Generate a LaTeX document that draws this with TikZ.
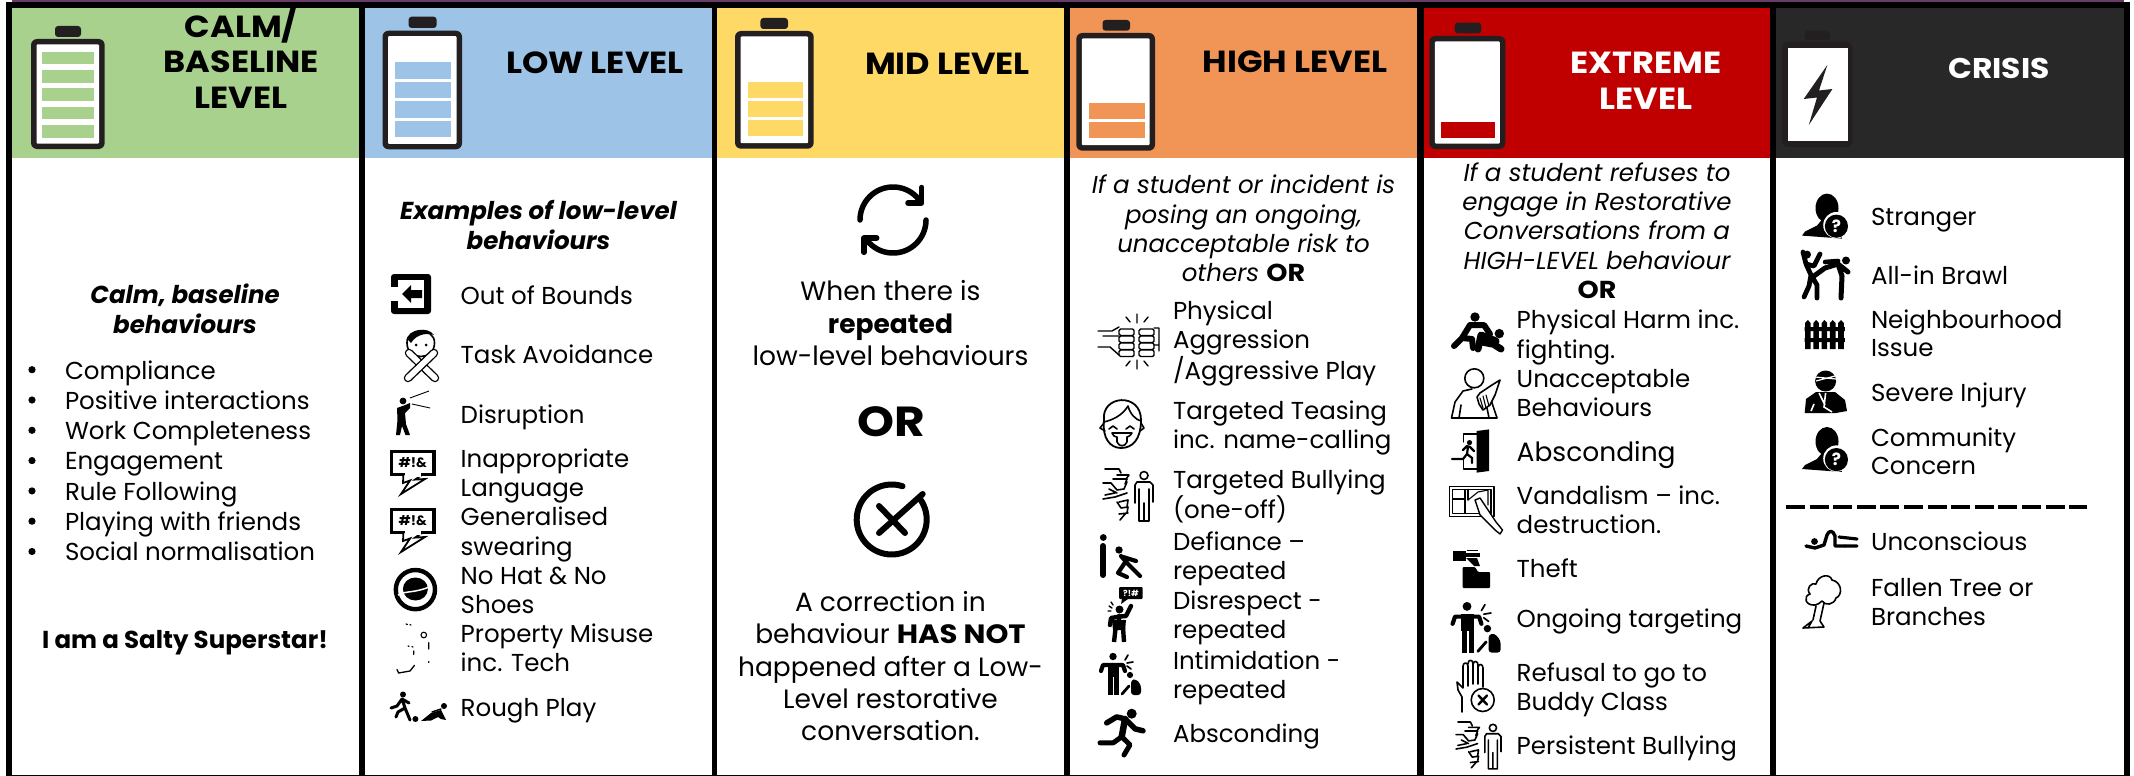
\documentclass[tikz,border=0pt]{standalone}
\usepackage{fontspec}
\setmainfont{Poppins}
\definecolor{cgreen}{HTML}{A9D18E}
\definecolor{cblue}{HTML}{9DC3E6}
\definecolor{cyellow}{HTML}{FFD966}
\definecolor{corange}{HTML}{F19556}
\definecolor{cred}{HTML}{C00000}
\definecolor{cdark}{HTML}{282828}
\definecolor{batcol}{HTML}{231F20}
\definecolor{cpurple}{HTML}{6A3A66}
\newcommand{\wb}[1]{{\bfseries\addfontfeature{FakeStretch=1.1}#1}}
\tikzset{
  lbl/.style={inner sep=0pt,outer sep=0pt,align=left,anchor=base west,yshift=-1.3pt,font=\fontsize{24.5}{29.3}\selectfont},
  lblsix/.style={lbl,yshift=0pt,font=\fontsize{24.5}{28.2}\selectfont},
  ctr/.style={inner sep=0pt,outer sep=0pt,align=center,anchor=base,yshift=-1.3pt,font=\fontsize{24.5}{29.3}\selectfont},
  big/.style={inner sep=0pt,outer sep=0pt,align=center,anchor=base,yshift=-1.3pt,font=\fontsize{26.5}{32.4}\selectfont},
  head/.style={inner sep=0pt,outer sep=0pt,align=center,anchor=base,font=\fontsize{30.5}{35.5}\selectfont\bfseries\addfontfeature{FakeStretch=1.1}},
  blk/.style={line cap=round,line join=round,black},
  thin/.style={line width=1.6pt,line cap=round,line join=round,black},
}
\newcommand{\batt}[8]{%
  \fill[batcol,rounded corners=3pt] (#5,#6) rectangle (#7,#8);
  \fill[batcol,rounded corners=6pt] (#1,#2) rectangle (#3,#4);
  \fill[white,rounded corners=1pt] ({#1+5.5},{#2+5.5}) rectangle ({#3-5.5},{#4-5.5});}
\newcommand{\seg}[5]{\fill[#1] (#2,#3) rectangle (#4,#5);}
\newcommand{\speechicon}[3]{\begin{scope}[shift={(#2,#3)}]
  \draw[line width=3.2pt,fill=white] (1.6,1.6) rectangle (43.9,24.4);
  \filldraw[draw=black,fill=white,line width=1.8pt,line join=miter] (13.4,25)--(13,33)--(20,30.5)--(11,44)--(35,29)--(25,29.6)--(32,25);
  \fill[white] (14.6,22.9) rectangle (30.8,26.6);
  \node[inner sep=0pt,font=\fontsize{13.5}{14}\selectfont\bfseries] (#1) at (22.7,13) {\#!\&};
\end{scope}}
\newcommand{\bullyicon}[3]{\begin{scope}[shift={(#1,#2)},scale=#3]
  \draw[thin] (2,0)--(16,0)--(18,4) (14,6)--(26,6)--(23,10) (10,10)--(24,10)--(22,15) (0,14)--(8,14)--(14,21)--(21,20)--(24,13) (6,20)--(14,24)
    (0,30)--(12,28)--(24,24) (2,26)--(12,24) (16,33)--(25,31)--(24,38) (18,39)--(25,38)--(24,44) (16,45)--(25,44) (17,51)--(23,44) (14,33)--(18,39);
  \draw[thin] (41,6.5) circle (4);
  \draw[thin] (32,34)--(32,16)--(34,13)--(47,13)--(50,16)--(50,33) (46,20)--(46,52)--(36,52)--(36,20) (41,34)--(41,52);
\end{scope}}
\newcommand{\targeticon}[3]{\begin{scope}[shift={(#1,#2)},scale=#3]
  \fill (15,4.5) circle (3.7);
  \draw[blk,line width=4.2pt] (3,19)--(5,13)--(25,13)--(27,19);
  \fill (10,11) rectangle (21,25);
  \draw[line width=4.6pt] (12.7,24)--(12.7,43) (18.6,24)--(18.6,43);
  \fill (32,23) circle (3.1);
  \fill[rounded corners=3pt] (33,28)--(38,27)--(43,33)--(43,43)--(33,43)--cycle;
  \draw[blk,line width=2.8pt] (24,42)--(31,34);
  \draw[blk,line width=1.7pt] (30,3)--(27,8) (29,11)--(35,10) (29,14)--(33,17);
\end{scope}}
\newcommand{\strangericon}[3]{\begin{scope}[shift={(#2,#3)}]
  \fill (25,14.5) ellipse (11.5 and 14.5);
  \fill (0,42)--(3,38)--(15,32)--(20,26)--(30,26)--(36,32)--(40,45)--cycle;
  \fill[white] (34.4,31.6) circle (13.2);
  \fill (34.4,32.6) circle (11.6);
  \node[inner sep=0pt,text=white,font=\fontsize{17}{18}\selectfont\bfseries] (#1) at (34.4,32.6) {?};
\end{scope}}
\begin{document}
\begin{tikzpicture}[x=1pt,y=-1pt]
\useasboundingbox (0,0) rectangle (2134,776);
\fill[white] (0,0) rectangle (2134,776);
% frame and columns
\fill[black] (6,2) rectangle (2130,776);
\fill[cpurple] (12,0) rectangle (2124,2);
\fill[white] (12,158) rectangle (359,775);
\fill[white] (365,158) rectangle (712,775);
\fill[white] (717,158) rectangle (1064,775);
\fill[white] (1070,158) rectangle (1417,775);
\fill[white] (1424,158) rectangle (1770,775);
\fill[white] (1776,158) rectangle (2124,775);
\fill[cgreen] (12,8) rectangle (359,158);
\fill[cblue] (365,8) rectangle (712,158);
\fill[cyellow] (717,8) rectangle (1064,158);
\fill[corange] (1070,8) rectangle (1417,158);
\fill[cred] (1424,8) rectangle (1770,158);
\fill[cdark] (1776,8) rectangle (2124,158);
% batteries
\batt{31}{39}{104.7}{149}{55}{26}{81}{37}
\foreach \a/\b in {52/64.3,70/82.7,88.3/101,106.7/119.3,125/137.7}{\seg{cgreen}{42}{\a}{94}{\b}}
\batt{382.5}{30.7}{462}{149.3}{408.6}{16.7}{436.6}{28}
\foreach \a/\b in {62.3/79,81.7/98.3,101/117.7,120.7/137.3}{\seg{cblue}{395}{\a}{451}{\b}}
\batt{735}{31}{813.7}{148.7}{760.4}{18}{788}{29}
\foreach \a/\b in {81.7/98,101/117.3,120/136.3}{\seg{cyellow}{747.5}{\a}{802.6}{\b}}
\batt{1076.3}{33}{1155}{150.7}{1102.5}{20}{1130}{30.7}
\foreach \a/\b in {103/119,122.3/138.3}{\seg{corange}{1089}{\a}{1144.7}{\b}}
\batt{1429.3}{36}{1505.3}{149}{1454.7}{22.7}{1481.3}{33.3}
\seg{cred}{1441}{122}{1495}{137.7}
\fill[batcol,rounded corners=3pt] (1804.7,30.7) rectangle (1830,40);
\fill[batcol,rounded corners=6pt] (1782,42) rectangle (1852.6,147);
\fill[white] (1787.5,47.6) rectangle (1847.5,141);
\fill[batcol] (1827.3,65)--(1803.7,99)--(1817,97.5)--(1808.8,125)--(1832.4,89)--(1819,90.5)--cycle;
% headers
\node[head] (h1) at (241,108) {CALM/\\BASELINE\\LEVEL};
\node[head] (h2) at (595,74) {LOW LEVEL};
\node[head] (h3) at (947.5,74.7) {MID LEVEL};
\node[head] (h4) at (1295,72.7) {HIGH LEVEL};
\node[head,text=white] (h5) at (1646,109) {EXTREME\\LEVEL};
\node[head,text=white,font=\fontsize{28.5}{35.5}\selectfont\bfseries\addfontfeature{FakeStretch=1.1}] (h6) at (1999,78) {CRISIS};
% column 1
\node[ctr,font=\fontsize{24.5}{30}\selectfont\bfseries\itshape] (c1t) at (185,331.7) {Calm, baseline\\behaviours};
\node[lbl,font=\fontsize{24.5}{30.3}\selectfont] (c1l) at (65,559.5) {Compliance\\Positive interactions\\Work Completeness\\Engagement\\Rule Following\\Playing with friends\\Social normalisation};
\foreach \i in {0,...,6}{\fill (32,{369.7+30.3*\i}) circle (3.6);}
\node[ctr,font=\fontsize{24.5}{30}\selectfont\bfseries] (c1b) at (185,647) {I am a Salty Superstar!};
% column 2
\node[ctr,font=\fontsize{24.5}{30}\selectfont\bfseries\itshape] (c2t) at (538.5,248) {Examples of low-level\\behaviours};
\node[lbl] (c2a) at (460.7,302.7) {Out of Bounds};
\node[lbl] (c2b) at (460.7,362.4) {Task Avoidance};
\node[lbl] (c2c) at (460.7,421.8) {Disruption};
\node[lbl] (c2d) at (460.7,495) {Inappropriate\\Language};
\node[lbl] (c2e) at (460.7,553.8) {Generalised\\swearing};
\node[lbl] (c2f) at (460.7,612.3) {No Hat \& No\\Shoes};
\node[lbl] (c2g) at (460.7,670.3) {Property Misuse\\inc. Tech};
\node[lbl] (c2h) at (460.7,714.8) {Rough Play};
% column 2 icons
\begin{scope}[shift={(391,274)}]
  \fill[rounded corners=3pt] (0,0) rectangle (40,40);
  \fill[white] (7,6) rectangle (33,34);
  \fill[white] (0,13) rectangle (7,27);
  \fill (11,20)--(20,11)--(20,16)--(31,16)--(31,24)--(20,24)--(20,29)--cycle;
\end{scope}
\begin{scope}[shift={(404,329)}]
  \draw[thin] (3,14) .. controls (2,-2) and (31,-2) .. (30.5,14) .. controls (30.5,32) and (3,32) .. (3,14) -- cycle;
  \fill (4,11) .. controls (4,0) and (24,-3) .. (30,6) .. controls (25,4) and (13,4) .. (7,14) -- cycle;
  \fill (12,16) circle (1.5) (22,16) circle (1.5);
  \draw[line width=8.5pt,line cap=round] (5,24)--(31,49);
  \draw[line width=5.8pt,white,line cap=round] (5,24)--(31,49);
  \draw[line width=8.5pt,line cap=round] (30,24)--(4,49);
  \draw[line width=5.8pt,white,line cap=round] (30,24)--(4,49);
\end{scope}
\draw[line width=0.9pt] (410,398)--(429,391) (412,404)--(430,408);
\fill (403,401) circle (3.4);
\fill (397,408)--(404,405.5)--(410,403)--(410,408)--(405,413)--(406,424)--(410,435)--(405.5,435)--(402,426)--(400,435)--(396,435)--(397.5,420)--cycle;
\speechicon{s1}{390}{450}
\speechicon{s2}{390}{508}
\draw[line width=4.4pt] (415.4,589.6) circle (19.6);
\fill (415.4,589) ellipse (12.5 and 11.5);
\draw[white,line width=1.5pt] (398,595) .. controls (408,590) and (412,594) .. (432,586);
\draw[line width=1.1pt,line cap=round] (423.8,635) circle (2.8);
\draw[line width=1.2pt,line cap=round] (406,624)--(407.5,624.5) (410,624.6)--(411,625) (408,646)--(409,646.3) (412,646.7)--(413,647) (428.8,642.6)--(428.8,649) (413.7,651)--(413.7,654.4) (428.8,661.5)--(428.8,662.5);
\draw[line width=1.3pt,line cap=round] (397,669.5)--(398.6,673)--(410,671)--(414.4,665.4);
% rough play
\fill (403,694.5) circle (3);
\draw[blk,line width=3pt] (402,699)--(405,708)--(410,720) (405,708)--(398,712)--(396,717) (402,699)--(397,706)--(391,708) (402,699)--(409,703);
\fill (415.4,719) circle (3);
\fill (444,706) circle (3);
\fill (421,721)--(431,713)--(441,710)--(443,714)--(446,720)--(441,719)--(438,717)--(431,720.5)--cycle;
\draw[blk,line width=1.5pt] (432,712)--(441,709);
% column 3
\draw[blk,line width=5.5pt] plot[domain=180:322,samples=40] ({893+33*cos(\x)},{220+33*sin(\x)});
\draw[blk,line width=5.5pt] (921.7,187.5)--(921.7,203)--(908,203);
\draw[blk,line width=5.5pt] plot[domain=0:138,samples=40] ({893+33*cos(\x)},{220+33*sin(\x)});
\draw[blk,line width=5.5pt] (864,252.3)--(864,238)--(876.7,238);
\node[big] (c3a) at (890.5,364.3) {When there is\\\textbf{repeated}\\low-level behaviours};
\node[ctr,yshift=0pt,font=\fontsize{42}{44}\selectfont\bfseries\addfontfeature{FakeStretch=1.12}] (c3or) at (891,435.5) {OR};
\draw[blk,line width=6pt] plot[domain=-35:288,samples=60] ({891.7+35*cos(\x)},{519.5+35*sin(\x)});
\draw[blk,line width=6pt] (879,506)--(905,533) (879,533)--(922.7,494);
\node[big] (c3b) at (890.5,739.6) {A correction in\\behaviour \wb{HAS NOT}\\happened after a Low-\\Level restorative\\conversation.};
% column 4
\node[ctr] (c4t) at (1243.5,280.5) {\itshape If a student or incident is\\\itshape posing an ongoing,\\\itshape unacceptable risk to\\\itshape others \upshape\wb{OR}};
\node[lbl] (c4a) at (1173,378.3) {Physical\\Aggression\\/Aggressive Play};
\node[lbl] (c4b) at (1173,447.2) {Targeted Teasing\\inc. name-calling};
\node[lbl] (c4c) at (1173,517.3) {Targeted Bullying\\(one-off)};
\node[lbl] (c4d) at (1173,578.3) {Defiance --\\repeated};
\node[lbl] (c4e) at (1173,637.3) {Disrespect -\\repeated};
\node[lbl] (c4f) at (1173,697.1) {Intimidation -\\repeated};
\node[lbl] (c4g) at (1173,740.8) {Absconding};
% fists
\draw[thin,line width=1.4pt] (1137,314)--(1137,323) (1126,317)--(1130,322) (1148,317)--(1144,322) (1137,360)--(1137,369) (1126,366)--(1130,361) (1148,366)--(1144,361);
\foreach \q in {329,336,343,350}{
  \draw[thin,line width=1.4pt,rounded corners=1.5pt] (1119,\q) rectangle (1134,{\q+6.5});
  \draw[thin,line width=1.4pt,rounded corners=1.5pt] (1139,\q) rectangle (1154,{\q+6.5});}
\draw[thin,line width=1.4pt] (1098,331)--(1112,331)--(1119,327) (1103,336)--(1119,336) (1098,347)--(1110,347)--(1119,355) (1154,328)--(1159,328) (1154,345)--(1159,345) (1159,328)--(1159,351);
% face
\draw[thin,line width=1.8pt] (1104,420) .. controls (1101,395) and (1141,392) .. (1141,420) .. controls (1141,440) and (1132,448) .. (1121,448) .. controls (1110,448) and (1102,438) .. (1104,420);
\draw[thin,line width=1.6pt] (1104,422) .. controls (1112,420) and (1122,416) .. (1128,406) .. controls (1130,414) and (1136,420) .. (1141,421) (1104,423)--(1100,428)--(1105,431) (1141,423)--(1144,428)--(1140,431);
\draw[thin] (1109,429)--(1113,426)--(1117,429) (1126,429)--(1130,426)--(1134,429);
\draw[thin,fill=white] (1112,433)--(1132,433) .. controls (1130,436) and (1128,437) .. (1127,437) -- (1127,442) .. controls (1125,447) and (1119,447) .. (1117,442) -- (1117,437) .. controls (1115,437) and (1113,436) .. (1112,433);
\bullyicon{1103}{469}{1}
% defiance
\fill (1103.3,537.5) circle (3.4);
\draw[blk,line width=6pt] (1103,546)--(1103,575);
\fill (1119,550) circle (3.7);
\draw[blk,line width=4.2pt] (1121,556)--(1128,564)--(1140,576) (1126,561)--(1118,573)--(1127,577) (1123,557)--(1136,561);
% disrespect
\fill[rounded corners=1pt] (1119,587) rectangle (1142.7,599);
\fill (1122,599)--(1128,599)--(1121,604)--cycle;
\node[inner sep=0pt,text=white,font=\fontsize{8.5}{9}\selectfont\bfseries] (q1) at (1131,593) {?!\#};
\fill (1119.5,609.5) circle (4);
\draw[blk,line width=4.4pt] (1110,625)--(1111,618)--(1120,616.5)--(1126,616)--(1131,606) (1119,616)--(1119,625);
\draw[line width=4.4pt] (1116.5,620)--(1114,642) (1122.5,620)--(1124,642);
\fill (1112,620)--(1126,620)--(1125,630)--(1113,630)--cycle;
\draw[blk,line width=1.4pt] (1109,606)--(1112,608) (1108,611)--(1111,611) (1111,602)--(1113,605);
\targeticon{1098}{652}{1}
% runner
\fill (1131.7,713.7) circle (5);
\draw[blk,line width=5.5pt] (1106.7,722.9)--(1116.7,716.9)--(1125,718.9)--(1135,728.8)--(1143,730.8);
\draw[blk,line width=6.5pt] (1125,719)--(1121.7,736.8);
\draw[blk,line width=5pt] (1121.7,736.8)--(1130,744.8)--(1124,755) (1121.7,736.8)--(1113.3,742.8)--(1100,742.8);
% column 5
\node[ctr] (c5t) at (1597,297.2) {\itshape If a student refuses to\\\itshape engage in Restorative\\\itshape Conversations from a\\\itshape HIGH-LEVEL behaviour\\\upshape\wb{OR}};
\node[lbl] (c5a) at (1516.7,356.9) {Physical Harm inc.\\fighting.};
\node[lbl] (c5b) at (1516.7,415.3) {Unacceptable\\Behaviours};
\node[lbl,font=\fontsize{26.5}{30}\selectfont] (c5c) at (1516.7,460.6) {Absconding};
\node[lbl] (c5d) at (1516.7,532.3) {Vandalism -- inc.\\destruction.};
\node[lbl] (c5e) at (1516.7,576) {Theft};
\node[lbl] (c5f) at (1516.7,625.8) {Ongoing targeting};
\node[lbl] (c5g) at (1516.7,709.3) {Refusal to go to\\Buddy Class};
\node[lbl] (c5h) at (1516.7,752.8) {Persistent Bullying};
% fight
\fill (1475,317) circle (4.7) (1499.3,333.6) circle (4.7);
\draw[blk,line width=6pt] (1470,325)--(1462,338)--(1454,346) (1462,338)--(1472,339)--(1473,348) (1470,325)--(1484,325)--(1490,334);
\draw[blk,line width=7pt] (1496,341)--(1481,335)--(1478,349) (1490,342)--(1501,349) (1482,342)--(1492,344);
% unacceptable
\draw[thin] (1474.3,378.3) circle (9.5);
\draw[thin] (1451.5,418)--(1455,402)--(1463,391)--(1472,389) (1451.5,418)--(1497,418)--(1491,400) (1459,418)--(1461,405) (1489,418)--(1487,408);
\draw[thin,fill=white] (1480,393)--(1492,385)--(1500,380)--(1495,395)--(1490,405)--(1483,410)--(1479,404)--(1477,397)--cycle;
\draw[thin,line width=1.1pt] (1480,398)--(1483,408) (1483,396)--(1486,408) (1486,395)--(1489,406);
% exit
\fill (1476.7,431)--(1489,429.4)--(1489,471)--(1476.7,472.6)--cycle;
\draw[thin,line width=1.1pt] (1476.7,434)--(1463.3,434)--(1463.3,442) (1463.3,458)--(1463.3,469)--(1476.7,469);
\fill (1469.5,442.6) circle (2.6);
\draw[blk,line width=2.2pt] (1463,450)--(1467,446)--(1470,447)--(1474,451) (1468,447)--(1467,454)--(1472,458)--(1472,463) (1467,454)--(1463,459)--(1452,459);
% vandalism
\draw[thin,line width=1.3pt] (1449.5,486.5) rectangle (1494,516.5);
\draw[thin,line width=1.1pt] (1452.5,489.5) rectangle (1491,513.5) (1465,489.5)--(1465,513.5) (1452.5,499)--(1465,499) (1468,489.5)--(1468,500);
\draw[thin,line width=1.1pt] (1468,500)--(1478,492)--(1488,490)--(1488,505);
\draw[thin,line width=1.4pt,fill=white] (1475,500)--(1480,498)--(1496,522)--(1502.5,530)--(1500,534)--(1495,530)--(1480,515)--cycle;
% theft
\fill (1452.7,551) rectangle (1466,561);
\fill (1466,553) rectangle (1480,556.5);
\fill (1466,558)--(1477,558)--(1480,566)--(1474,566)--cycle;
\draw[line width=0.9pt] (1467,550)--(1478,550);
\fill[rounded corners=1pt] (1462.7,588)--(1462.7,567)--(1475,567)--(1478,572)--(1490,572)--(1490,588)--cycle;
\targeticon{1449}{601}{1.2}
% refusal
\draw[thin] (1462,712)--(1462,697)--(1458,690)--(1457,682)--(1460,685)--(1463,688)--(1463,666)  (1463,666) .. controls (1463,662) and (1468,662) .. (1468,666) (1468,666)--(1468,686) (1468,664) .. controls (1468,659) and (1473,659) .. (1473,664)--(1473,684) (1473,664) .. controls (1474,660) and (1478,661) .. (1478,665)--(1478,684) (1478,667) .. controls (1479,663) and (1483,664) .. (1483,668)--(1483,687);
\draw[thin] (1482.7,700) circle (11.5);
\draw[line width=2.4pt,line cap=round] (1478.5,695.5)--(1487,704.5) (1487,695.5)--(1478.5,704.5);
\bullyicon{1456}{722}{0.9}
% column 6
\strangericon{q2}{1802}{193.6}
\strangericon{q3}{1802}{427}
\node[lblsix] (c6a) at (1871,224) {Stranger};
\node[lblsix] (c6b) at (1871,282.8) {All-in Brawl};
\node[lblsix] (c6c) at (1871,355.6) {Neighbourhood\\Issue};
\node[lblsix] (c6d) at (1871,399.8) {Severe Injury};
\node[lblsix] (c6e) at (1871,473.5) {Community\\Concern};
\node[lblsix] (c6f) at (1871,549) {Unconscious};
\node[lblsix] (c6g) at (1871,623.7) {Fallen Tree or\\Branches};
% brawl
\fill (1807,254.6) circle (4) (1846,260.5) circle (4);
\draw[blk,line width=4.8pt] (1803,252)--(1806,264)--(1814,266)--(1820,254) (1806,264)--(1811,275)--(1809,286)--(1804,297) (1811,275)--(1817,285)--(1817,298);
\draw[blk,line width=5pt] (1814,276)--(1825,268)--(1838,264)--(1848,272) (1838,264)--(1842,276)--(1841,298);
\draw[blk,line width=4.6pt] (1825,262)--(1838,261);
% fence
\foreach \p in {1805,1813.3,1821.6,1829.9,1838.2}{\fill (\p,349)--(\p,323)--({\p+2.8},320)--({\p+5.6},323)--({\p+5.6},349)--cycle;}
\fill (1804.7,327) rectangle (1844.8,331) (1804.7,338) rectangle (1844.8,342);
% injury
\fill (1825.6,381) circle (10.5);
\draw[white,line width=1.2pt] (1815,377)--(1836,379) (1816,381)--(1835,376);
\fill (1804.7,413)--(1806,399)--(1816,392)--(1835,392)--(1845,400)--(1847,411)--(1836,413)--cycle;
\draw[white,line width=1.6pt] (1825.6,393)--(1824,407)--(1832,412) (1814,404)--(1811,411) (1819,393)--(1825,405);
% dashed rule
\draw[line width=3.5pt,dash pattern=on 19pt off 4.6pt] (1786,507)--(2087,507);
% unconscious
\fill (1814.5,541.5) circle (3.4);
\draw[blk,line width=3.4pt] (1806,546)--(1815,548)--(1824,545)--(1827,535) .. controls (1829,530) and (1833,530) .. (1835,536)--(1835,546)--(1845,546);
\draw[blk,line width=3.2pt] (1839,537)--(1857,539) (1845,546)--(1857,546);
% tree
\draw[thin] (1815,605) .. controls (1805,606) and (1803,596) .. (1810,594) .. controls (1805,588) and (1812,582) .. (1816,584) .. controls (1818,575) and (1830,573) .. (1832,580) .. controls (1842,582) and (1843,595) .. (1836,598) .. controls (1834,605) and (1825,606) .. (1822,601) .. controls (1820,603) and (1817,605) .. (1815,605);
\draw[thin] (1813,620)--(1816,606) (1820,621)--(1824,603) (1803,628)--(1812,621)--(1808,628) (1820,621)--(1824,627)--(1803,628);
\end{tikzpicture}
\end{document}
